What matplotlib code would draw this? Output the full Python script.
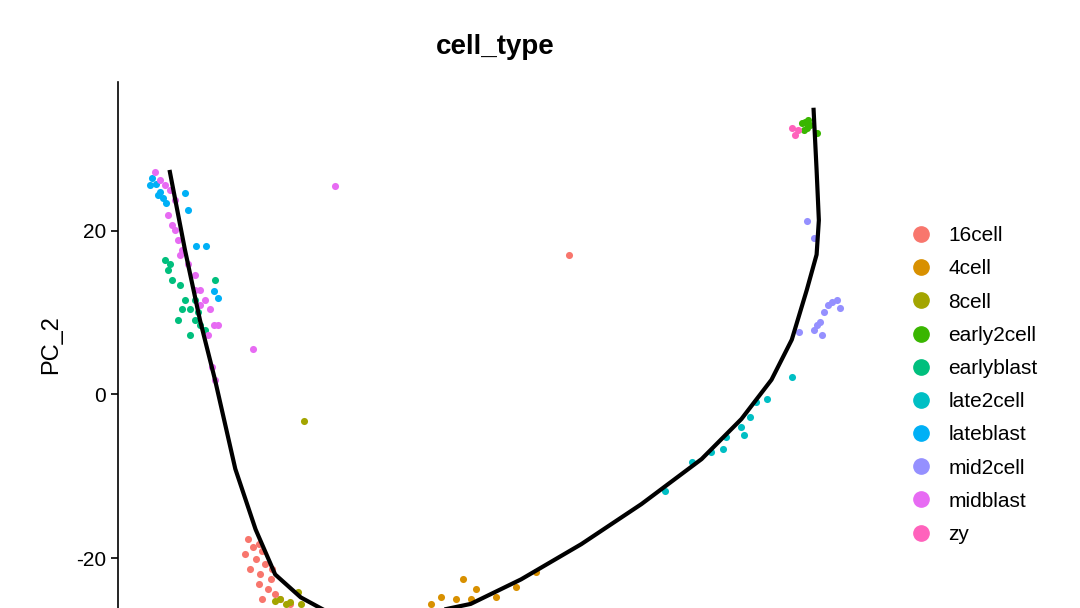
import matplotlib
matplotlib.use("Agg")
import matplotlib.pyplot as plt
from matplotlib.lines import Line2D

plt.rcParams['font.family'] = ['Liberation Sans', 'DejaVu Sans']
plt.rcParams['axes.unicode_minus'] = False

cell_types = ["16cell","4cell","8cell","early2cell","earlyblast","late2cell","lateblast","mid2cell","midblast","zy"]
colors = ["#F8766D","#D89000","#A3A500","#39B600","#00BF7D","#00BFC4","#00B0F6","#9590FF","#E76BF3","#FF62BC"]

pts = {
 "16cell": ([60.0,17.3,17.9,18.7,19.2,18.3,19.6,17.6,18.9,20.3,18.7,20.0,20.9,19.2,21.6,22.9,16.9,20.5],
            [17.1,-17.7,-18.7,-18.3,-19.1,-20.1,-20.7,-21.3,-22.0,-22.6,-23.2,-23.8,-24.4,-25.0,-25.0,-25.6,-19.5,-21.3]),
 "4cell": ([45.9,47.6,42.9,41.6,52.9,55.6,50.3,44.9,46.9],
           [-22.6,-23.8,-24.8,-25.6,-23.5,-21.7,-24.8,-25.0,-25.0]),
 "8cell": ([24.8,21.6,22.3,22.9,24.0,24.3,20.9],
           [-3.3,-25.0,-25.6,-25.4,-24.1,-25.6,-25.2]),
 "early2cell": ([90.9,91.3,91.7,92.0,91.2,92.9,91.6],
                [33.2,33.3,33.5,32.9,32.3,32.0,32.6]),
 "earlyblast": ([6.3,6.9,6.7,7.2,8.3,8.9,9.6,10.3,10.9,11.6,9.6,8.0,8.5,10.3,10.7,12.9],
                [16.5,15.9,15.2,14.0,13.4,11.6,10.4,9.1,8.5,7.9,7.3,9.1,10.4,11.6,10.1,14.0]),
 "late2cell": ([72.7,76.3,78.9,80.5,82.9,83.2,84.0,84.9,86.3,89.6,80.9],
               [-11.8,-8.2,-7.0,-6.7,-4.0,-4.9,-2.8,-0.9,-0.6,2.1,-5.2]),
 "lateblast": ([4.5,5.1,5.6,6.0,6.4,8.9,9.3,10.4,11.7,5.3,12.7,13.3,4.3],
               [26.5,25.7,24.8,24.0,23.4,24.6,22.6,18.2,18.2,24.4,12.6,11.8,25.6]),
 "mid2cell": ([91.6,92.5,90.5,92.9,93.3,93.9,94.4,94.9,95.6,96.0,93.6,92.5],
              [21.2,19.1,7.6,8.5,8.9,10.1,11.0,11.3,11.6,10.6,7.3,7.9]),
 "midblast": ([4.9,5.6,6.3,6.9,7.6,6.7,7.2,8.0,8.5,9.3,10.3,10.9,11.6,12.3,12.7,12.0,12.9,12.5,10.9,10.3,8.3,7.6,28.8,17.9,13.3],
              [27.2,26.2,25.6,25.0,23.8,22.0,20.7,18.9,17.7,15.9,14.6,12.8,11.6,10.4,8.5,7.3,1.8,3.3,11.0,12.8,17.1,20.1,25.5,5.6,8.5]),
 "zy": ([90.0,90.4,89.6],[31.7,32.3,32.6]),
}

curve_x = [6.9,8.9,10.9,12.9,15.6,18.3,20.9,24.3,28.3,37.6,46.9,53.6,61.6,69.6,77.6,82.9,86.9,89.6,91.6,92.9,93.2,92.9,92.5]
curve_y = [27.2,17.7,9.1,1.8,-9.1,-16.5,-22.0,-24.8,-26.8,-27.4,-25.6,-22.6,-18.3,-13.4,-7.9,-3.0,1.8,6.7,12.8,17.1,21.3,27.4,34.8]

fig = plt.figure(figsize=(10.8,6.08), dpi=100)
ax = fig.add_axes([118/1080, 0, 752/1080, 1-82/608])
for ct, c in zip(cell_types, colors):
    x, y = pts[ct]
    ax.scatter(x, y, s=26, color=c, linewidths=0, zorder=2)
ax.plot(curve_x, curve_y, color="black", lw=3, zorder=3, solid_joinstyle="round")
ax.set_xlim(0, 100)
ax.set_ylim(-26.1, 38.2)
for s in ["top","right","bottom"]:
    ax.spines[s].set_visible(False)
ax.spines["left"].set_linewidth(1.2)
ax.set_xticks([])
ax.set_yticks([-20,0,20])
ax.tick_params(axis="y", labelsize=15, length=5, width=1.2)
ax.set_ylabel("PC_2", fontsize=17, labelpad=10)
fig.text(495/1080, 1-47/608, "cell_type", ha="center", va="center", fontsize=20, fontweight="bold")

handles = [Line2D([], [], marker="o", ls="", color=c, markersize=11) for c in colors]
fig.legend(handles, cell_types, loc="upper left", bbox_to_anchor=(892/1080, 1-218/608),
           frameon=False, fontsize=15, handletextpad=0.3, labelspacing=0.68, borderaxespad=0)
fig.savefig("out.png", dpi=100)
